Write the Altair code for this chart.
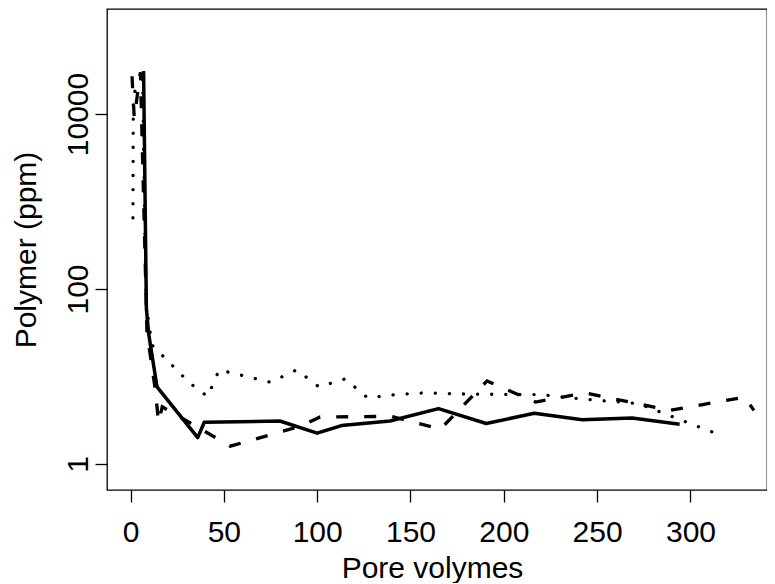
import altair as alt
import pandas as pd

# Solid series
solid_x = [7, 8.5, 9.7, 14.2, 36, 39.5, 80, 100, 113, 139, 165, 190.6, 216.3, 242, 268.7, 294.2]
solid_y = [31000, 60, 31, 7.6, 2.0, 3.0, 3.1, 2.25, 2.75, 3.1, 4.3, 2.9, 3.8, 3.2, 3.35, 2.85]

# Dashed series
dashed_x = [0.8, 2.0, 5.3, 8.8, 13.3, 15.0, 17.0, 53.5, 91, 101.6, 140, 166, 191, 217, 243.5, 289, 329, 334]
dashed_y = [27000, 9000, 30000, 32, 7, 3.0, 4.5, 1.6, 2.7, 3.45, 3.5, 2.5, 8.9, 5.1, 6.5, 4.1, 5.8, 4.1]

# Dotted series
dotted_x = [1.3, 1.5, 6.5, 8.3, 11.4, 31.5, 41.3, 47.5, 75, 89, 101, 115, 127, 142, 157, 180, 220, 235, 272, 317]
dotted_y = [650, 17000, 25000, 70, 23, 8.5, 5.9, 11.9, 8.6, 11.9, 7.6, 9.4, 5.7, 6.2, 6.5, 6.3, 6.2, 5.7, 4.9, 2.1]

x_ticks = [0, 50, 100, 150, 200, 250, 300]
y_ticks = [1, 100, 10000]

FONT = "Liberation Sans"
FS = 30

df_s = pd.DataFrame({"x": solid_x, "y": solid_y})
df_d = pd.DataFrame({"x": dashed_x, "y": dashed_y})
df_o = pd.DataFrame({"x": dotted_x, "y": dotted_y})

xenc = alt.X("x:Q",
             scale=alt.Scale(domain=[-12.6, 341], nice=False, zero=False),
             axis=alt.Axis(values=x_ticks, title="Pore volymes", format="d",
                           labelBaseline="top", labelPadding=15,
                           titleX=325, titleY=78, titleBaseline="middle",
                           titleAlign="center"))
yenc = alt.Y("y:Q",
             scale=alt.Scale(type="log", domain=[0.5045, 158500], nice=False),
             axis=alt.Axis(values=y_ticks, title="Polymer (ppm)", format="d",
                           labelAngle=270, labelAlign="center", labelBaseline="bottom",
                           labelPadding=2,
                           titleAngle=270, titleX=-81, titleY=240.5,
                           titleAlign="center", titleBaseline="middle"))

solid = alt.Chart(df_s).mark_line(color="black", strokeWidth=3.5, clip=True,
                                  strokeJoin="round").encode(x=xenc, y=yenc)
dashed = alt.Chart(df_d).mark_line(color="black", strokeWidth=3.3, clip=True,
                                   strokeDash=[12, 16], strokeCap="butt").encode(x=xenc, y=yenc)
dotted = alt.Chart(df_o).mark_line(color="black", strokeWidth=3.3, clip=True,
                                   strokeDash=[0.1, 14], strokeCap="round").encode(x=xenc, y=yenc)

chart = (alt.layer(solid, dashed, dotted)
         .properties(width=660, height=481,
                     autosize=alt.AutoSizeParams(type="none"),
                     padding={"left": 99, "top": 1, "right": 0, "bottom": 93},
                     background="white")
         .configure_view(stroke="black", strokeWidth=1.3)
         .configure_axis(domain=False, grid=False, ticks=True, tickColor="black",
                         tickSize=12, tickWidth=1.3,
                         labelFont=FONT, labelFontSize=FS, labelColor="black",
                         titleFont=FONT, titleFontSize=FS, titleFontWeight="normal",
                         titleColor="black"))

chart.save("out.html", embed_options={"renderer": "svg", "actions": False})
